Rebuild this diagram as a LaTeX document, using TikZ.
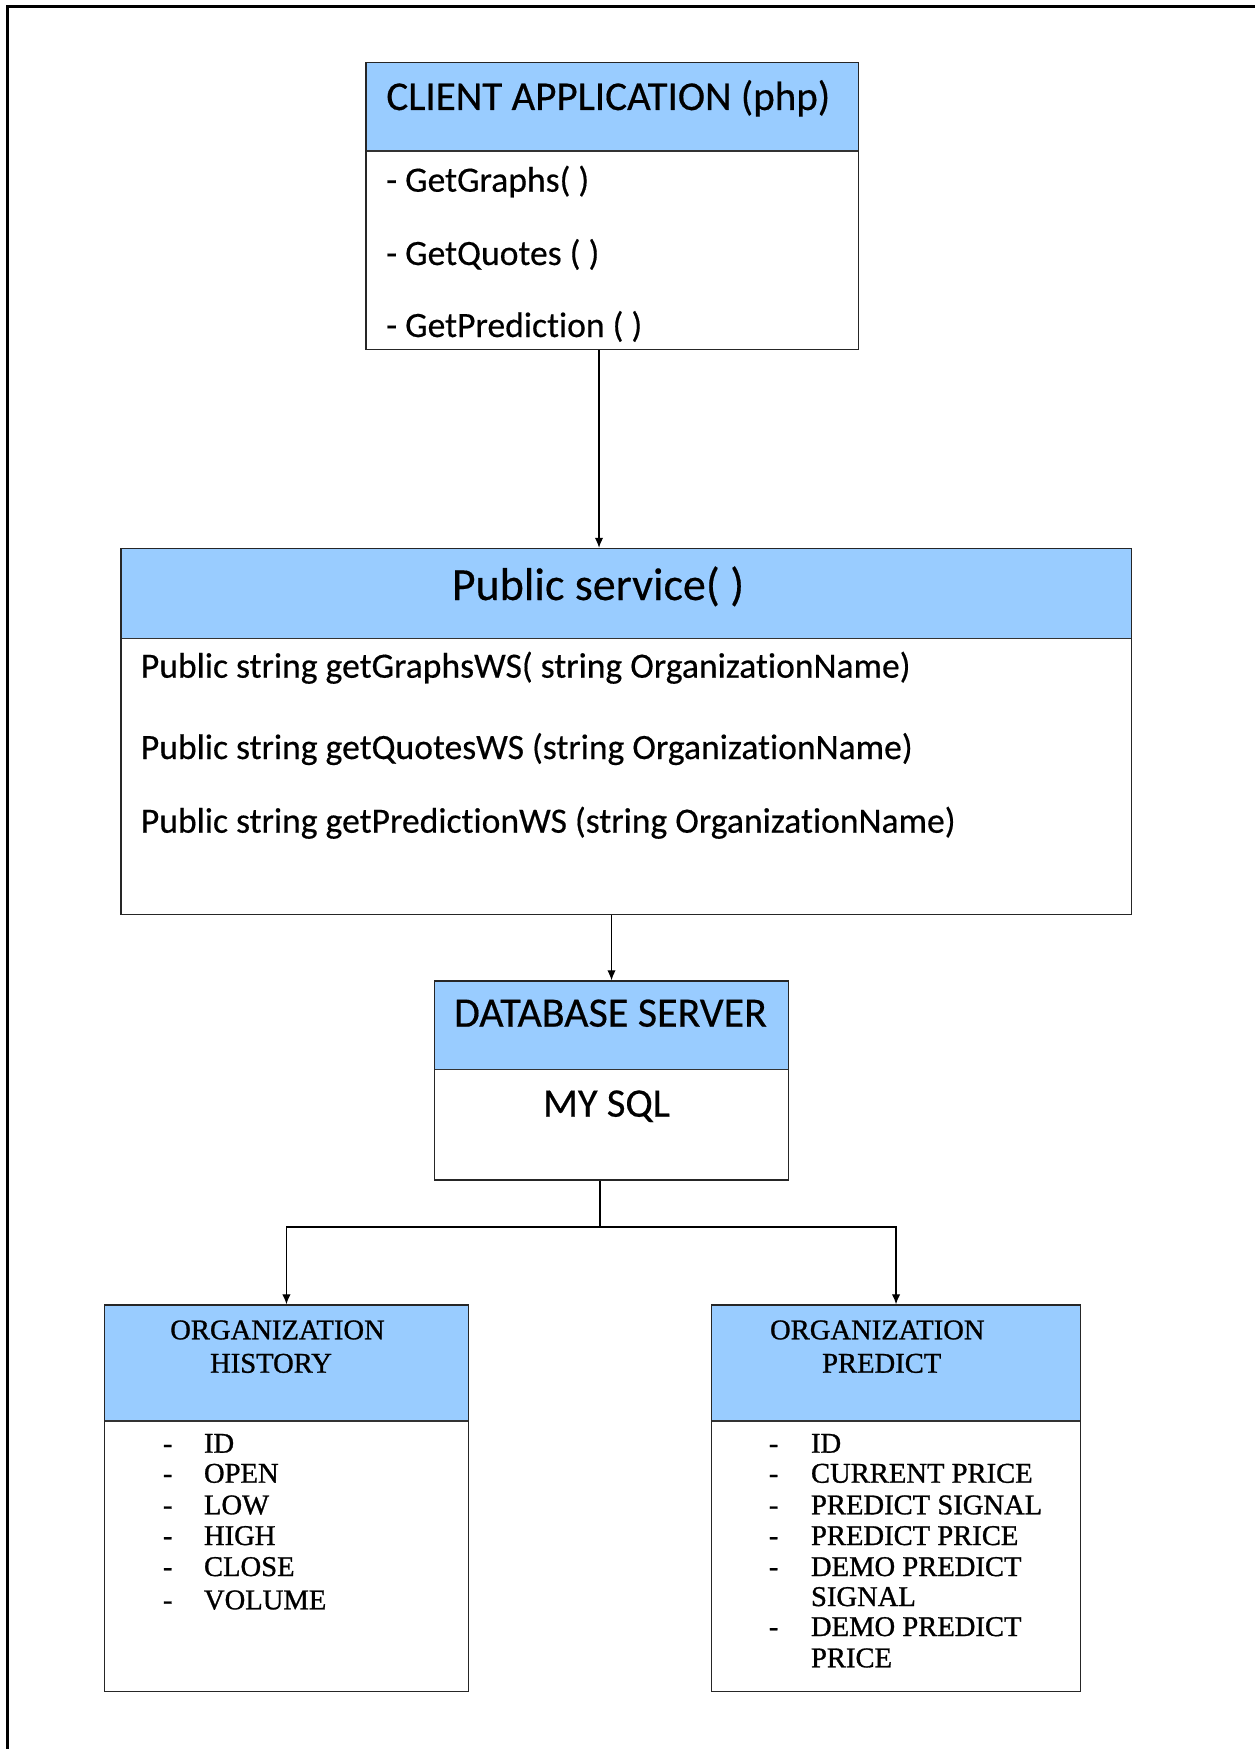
\documentclass[tikz,border=0pt]{standalone}
\usepackage{fontspec}
\setmainfont[Ligatures=NoCommon,FakeBold=0.4]{Carlito}
\newfontfamily\timesf[FakeBold=1.0]{Liberation Serif}
\usetikzlibrary{fit,arrows.meta}
\begin{document}
\begin{tikzpicture}[x=0.5pt,y=-0.5pt,
  hdr/.style={fill=hdrblue},
  boxframe/.style={draw=black!85, line width=0.7pt, inner sep=0pt},
  sepline/.style={draw=black!80, line width=0.8pt},
  arr/.style={draw=black, line width=0.6pt, -{Latex[length=5pt,width=4.2pt]}},
  plainline/.style={draw=black, line width=0.6pt},
  ttl/.style={inner sep=0pt, anchor=base, font=\fontsize{20.3pt}{24pt}\selectfont},
  ttlw/.style={inner sep=0pt, anchor=base west, font=\fontsize{20.5pt}{24pt}\selectfont},
  pubttl/.style={inner sep=0pt, anchor=base, font=\fontsize{23pt}{27pt}\selectfont},
  itm/.style={inner sep=0pt, anchor=base west, font=\fontsize{17.8pt}{21pt}\selectfont},
  sttl/.style={inner sep=0pt, anchor=base, font=\timesf\fontsize{14.3pt}{17pt}\selectfont},
  sdash/.style={inner sep=0pt, anchor=base, font=\timesf\fontsize{14.3pt}{17pt}\selectfont},
  sitm/.style={inner sep=0pt, anchor=base west, font=\timesf\fontsize{14.3pt}{17pt}\selectfont}
]
\definecolor{hdrblue}{RGB}{153,204,255}
\useasboundingbox (0,0) rectangle (1255,1749);
% outer frame (top and left edges)
\draw[line width=1.25pt] (7.7,1749) -- (7.7,6.7) -- (1255,6.7);

% ---------- client application ----------
\coordinate (c1) at (366,62.5);
\coordinate (c2) at (858.5,349.5);
\fill[hdr] (366,62.5) rectangle (858.5,151);
\draw[sepline] (366,151) -- (858.5,151);
\node[boxframe, fit=(c1)(c2)] (client) {};
\node[ttlw] (clientT) at (386,110) {CLIENT APPLICATION (php)};
\node[itm] (ci1) at (385.8,191.7) {- GetGraphs( )};
\node[itm] (ci2) at (385.8,265) {- GetQuotes ( )};
\node[itm] (ci3) at (385.8,337) {- GetPrediction ( )};

% ---------- public service ----------
\coordinate (p1) at (120.8,548.5);
\coordinate (p2) at (1131.2,914.5);
\fill[hdr] (120.8,548.5) rectangle (1131.2,638.5);
\draw[sepline] (120.8,638.5) -- (1131.2,638.5);
\node[boxframe, fit=(p1)(p2)] (pub) {};
\node[pubttl] (pubT) at (598,600) {Public service( )};
\node[itm] (pi1) at (140.5,677.7) {Public string getGraphsWS( string OrganizationName)};
\node[itm] (pi2) at (140.5,759) {Public string getQuotesWS (string OrganizationName)};
\node[itm] (pi3) at (140.5,832.7) {Public string getPredictionWS (string OrganizationName)};

% ---------- database server ----------
\coordinate (d1) at (434.3,981);
\coordinate (d2) at (788.7,1180);
\fill[hdr] (434.3,981) rectangle (788.7,1069.3);
\draw[sepline] (434.3,1069.3) -- (788.7,1069.3);
\node[boxframe, fit=(d1)(d2)] (db) {};
\node[ttl, font=\fontsize{21pt}{24pt}\selectfont] (dbT) at (610.5,1026.7) {DATABASE SERVER};
\node[ttl] (dbS) at (606.5,1116.7) {MY SQL};

% ---------- organization history ----------
\coordinate (h1) at (104.7,1305);
\coordinate (h2) at (468.2,1691.3);
\fill[hdr] (104.7,1305) rectangle (468.2,1420.7);
\draw[sepline] (104.7,1420.7) -- (468.2,1420.7);
\node[boxframe, fit=(h1)(h2)] (hist) {};
\node[sttl] (hT1) at (277.5,1339.3) {ORGANIZATION};
\node[sttl] (hT2) at (271,1372.7) {HISTORY};
\foreach \t/\yy [count=\i] in {ID/1452.7, OPEN/1482.7, LOW/1514.3, HIGH/1545, CLOSE/1576, VOLUME/1609.3}{
  \node[sdash] (hd\i) at (167.7,\yy) {-};
  \node[sitm] (hi\i) at (203.6,\yy) {\t};
}

% ---------- organization predict ----------
\coordinate (r1) at (711.7,1305);
\coordinate (r2) at (1080.4,1691.3);
\fill[hdr] (711.7,1305) rectangle (1080.4,1420.7);
\draw[sepline] (711.7,1420.7) -- (1080.4,1420.7);
\node[boxframe, fit=(r1)(r2)] (pred) {};
\node[sttl] (rT1) at (877.3,1339.3) {ORGANIZATION};
\node[sttl] (rT2) at (881.7,1372.7) {PREDICT};
\foreach \t/\yy [count=\i] in {ID/1452.7, CURRENT PRICE/1482.7, PREDICT SIGNAL/1514.3, PREDICT PRICE/1545, DEMO PREDICT/1576, DEMO PREDICT/1636}{
  \node[sdash] (rd\i) at (773.6,\yy) {-};
}
\foreach \t/\yy [count=\i] in {ID/1452.7, CURRENT PRICE/1482.7, PREDICT SIGNAL/1514.3, PREDICT PRICE/1545, DEMO PREDICT/1576, SIGNAL/1606, DEMO PREDICT/1636, PRICE/1667.3}{
  \node[sitm] (ri\i) at (810.6,\yy) {\t};
}

% ---------- connectors ----------
\coordinate (xa) at (599,0);
\coordinate (xb) at (611.5,0);
\coordinate (j) at (600,1227);
\draw[arr] (client.south -| xa) -- (pub.north -| xa);
\draw[arr] (pub.south -| xb) -- (db.north -| xb);
\draw[plainline] (db.south -| j) -- (j);
\draw[arr] (j) -| (hist.north);
\draw[arr] (j) -| (pred.north);
\end{tikzpicture}
\end{document}
